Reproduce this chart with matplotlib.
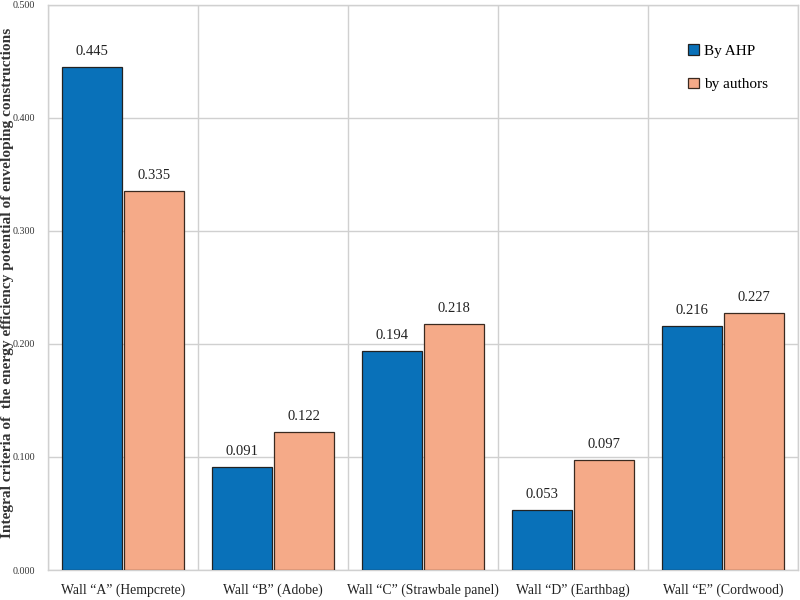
import matplotlib
matplotlib.use("Agg")
import matplotlib.pyplot as plt
import numpy as np

categories = ["Wall \u201cA\u201d (Hempcrete)", "Wall \u201cB\u201d (Adobe)", "Wall \u201cC\u201d (Strawbale panel)",
              "Wall \u201cD\u201d (Earthbag)", "Wall \u201cE\u201d (Cordwood)"]
by_ahp = [0.445, 0.091, 0.194, 0.053, 0.216]
by_authors = [0.335, 0.122, 0.218, 0.097, 0.227]
series_names = ["By AHP", "by authors"]
yticks = [0.0, 0.1, 0.2, 0.3, 0.4, 0.5]

plt.rcParams['font.family'] = ['Liberation Serif', 'DejaVu Serif']

fig = plt.figure(figsize=(8, 6), dpi=100)
ax = fig.add_axes([0.06, 0.05, 0.9375, 0.9417])

x = np.arange(len(categories))
w = 0.4
gap = 0.007
blue = "#0971b9"
salmon = "#f5aa88"
b1 = ax.bar(x - w/2 - gap, by_ahp, w, color=blue, edgecolor="#222222", linewidth=0.9, label=series_names[0], zorder=3)
b2 = ax.bar(x + w/2 + gap, by_authors, w, color=salmon, edgecolor="#3a2a20", linewidth=0.9, label=series_names[1], zorder=3)

for rect, v in list(zip(b1, by_ahp)) + list(zip(b2, by_authors)):
    ax.text(rect.get_x() + rect.get_width()/2, v + 0.008, f"{v:.3f}", ha="center", va="bottom", fontsize=10.5, color="#222222")

ax.set_xlim(-0.5, len(categories) - 0.5)
ax.set_ylim(0, 0.5)
ax.set_yticks(yticks)
ax.set_yticklabels([f"{t:.3f}" for t in yticks], fontsize=7.2, color="#333333")
ax.set_xticks(x)
ax.set_xticklabels(categories, fontsize=9.9, color="#222222")
ax.tick_params(axis='both', length=0)
ax.tick_params(axis='x', pad=10)
ax.tick_params(axis='y', pad=9.5)

ax.set_xticks(np.arange(-0.5, len(categories), 1.0), minor=True)
ax.grid(which='minor', axis='x', color="#d0d0d0", linewidth=1.0, zorder=0)
ax.grid(which='major', axis='y', color="#d0d0d0", linewidth=1.0, zorder=0)
ax.grid(which='major', axis='x', visible=False)
ax.tick_params(which='minor', length=0)

for s in ax.spines.values():
    s.set_color("#d0d0d0")
    s.set_linewidth(1.0)

ax.set_ylabel("Integral criteria of  the energy efficiency potential of enveloping constructions",
              fontsize=11.1, fontweight='bold', color="#333333", va='center')
ax.yaxis.set_label_coords(-0.054, 0.508)

leg = ax.legend(loc="upper right", bbox_to_anchor=(0.978, 0.955), frameon=False, fontsize=11,
                handlelength=0.7, handleheight=0.7, handletextpad=0.3, labelspacing=1.3)

fig.savefig("out.png", dpi=100)
